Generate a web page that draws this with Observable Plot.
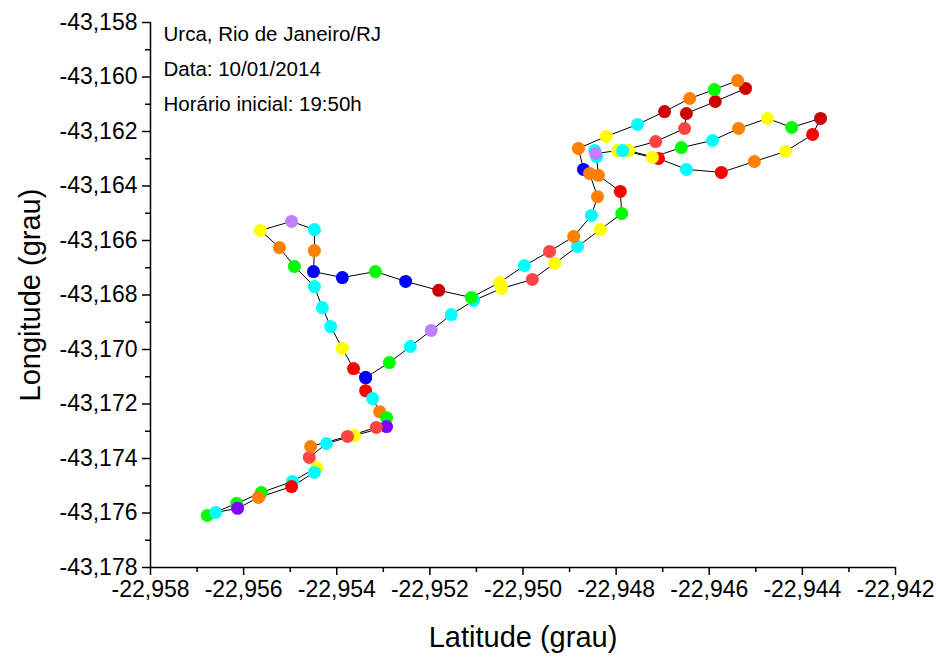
<!DOCTYPE html>
<html lang="pt-BR">
<head>
<meta charset="utf-8">
<script src="https://cdn.jsdelivr.net/npm/d3@7"></script>
<script src="https://cdn.jsdelivr.net/npm/@observablehq/plot@0.6"></script>
<style>
  html, body { margin: 0; padding: 0; background: #fff; }
</style>
</head>
<body>
<div id="chart"></div>
<script>
// GPS track recorded in Urca (Rio de Janeiro), points in walking order.
const latitude = [
  -22.95338, -22.95287, -22.95242, -22.95197, -22.95154, -22.95106, -22.95046, -22.94980,
  -22.94932, -22.94883, -22.94834, -22.94788, -22.94791, -22.94838, -22.94842, -22.94846,
  -22.94844, -22.94797, -22.94773, -22.94709, -22.94649, -22.94574, -22.94503, -22.94436,
  -22.94378, -22.94361, -22.94423, -22.94475, -22.94537, -22.94593, -22.94660, -22.94722,
  -22.94786, -22.94715, -22.94653, -22.94649, -22.94587, -22.94522, -22.94539, -22.94589,
  -22.94642, -22.94696, -22.94754, -22.94821, -22.94881, -22.94870, -22.94857, -22.94840,
  -22.94853, -22.94891, -22.94943, -22.94997, -22.95050, -22.95111, -22.95181, -22.95252,
  -22.95317, -22.95388, -22.95450, -22.95448, -22.95448, -22.95497, -22.95564, -22.95523,
  -22.95491, -22.95448, -22.95431, -22.95413, -22.95388, -22.95364, -22.95338, -22.95338,
  -22.95323, -22.95308, -22.95293, -22.95293, -22.95362, -22.95422, -22.95459, -22.95443,
  -22.95495, -22.95562, -22.95615, -22.95678, -22.95660, -22.95613, -22.95568, -22.95497,
  -22.95448, -22.95456, -22.95377, -22.95315
];
const longitude = [
  -43.17103, -43.17048, -43.16989, -43.16930, -43.16872, -43.16820, -43.16776, -43.16743,
  -43.16684, -43.16622, -43.16560, -43.16501, -43.16420, -43.16361, -43.16292, -43.16270,
  -43.16281, -43.16270, -43.16270, -43.16299, -43.16339, -43.16350, -43.16310, -43.16273,
  -43.16211, -43.16152, -43.16185, -43.16152, -43.16189, -43.16233, -43.16259, -43.16295,
  -43.16270, -43.16237, -43.16189, -43.16134, -43.16090, -43.16042, -43.16013, -43.16046,
  -43.16079, -43.16127, -43.16174, -43.16218, -43.16262, -43.16339, -43.16354, -43.16439,
  -43.16508, -43.16585, -43.16640, -43.16692, -43.16754, -43.16809, -43.16783, -43.16750,
  -43.16714, -43.16736, -43.16714, -43.16637, -43.16560, -43.16530, -43.16563, -43.16626,
  -43.16695, -43.16769, -43.16846, -43.16916, -43.16996, -43.17070, -43.17103, -43.17151,
  -43.17180, -43.17228, -43.17250, -43.17283, -43.17316, -43.17345, -43.17396, -43.17433,
  -43.17484, -43.17525, -43.17565, -43.17609, -43.17598, -43.17583, -43.17543, -43.17503,
  -43.17451, -43.17356, -43.17319, -43.17286
];
// class of each point (colour category)
const pointClass = [
  "azul", "verde", "ciano", "lilás", "ciano", "ciano", "amarelo", "vermelho claro",
  "amarelo", "ciano", "amarelo", "verde", "vermelho", "laranja", "ciano", "ciano",
  "lilás", "amarelo", "amarelo", "vermelho", "ciano", "vermelho", "laranja", "amarelo",
  "vermelho", "vermelho escuro", "verde", "amarelo", "laranja", "ciano", "verde", "amarelo",
  "ciano", "vermelho claro", "vermelho claro", "vermelho escuro", "vermelho escuro", "vermelho escuro", "laranja", "verde",
  "laranja", "vermelho escuro", "ciano", "amarelo", "laranja", "azul", "laranja", "laranja",
  "ciano", "laranja", "vermelho claro", "ciano", "amarelo", "verde", "vermelho escuro", "azul",
  "verde", "azul", "azul", "laranja", "ciano", "lilás", "amarelo", "laranja",
  "verde", "ciano", "ciano", "ciano", "amarelo", "vermelho", "azul", "vermelho",
  "ciano", "laranja", "verde", "violeta", "amarelo", "ciano", "vermelho claro", "amarelo",
  "ciano", "verde", "verde", "verde", "ciano", "violeta", "laranja", "vermelho",
  "ciano", "laranja", "vermelho claro", "vermelho claro"
];
const classNames = ["azul", "violeta", "lilás", "ciano", "verde", "amarelo", "laranja", "vermelho claro", "vermelho", "vermelho escuro"];
const classColors = ["#0000ff", "#8000ff", "#c080ff", "#00ffff", "#00ff00", "#ffff00", "#ff8000", "#ff4444", "#ff0000", "#cc0000"];

const xTicks = [-22.958, -22.956, -22.954, -22.952, -22.950, -22.948, -22.946, -22.944, -22.942];
const yTicks = [-43.178, -43.176, -43.174, -43.172, -43.170, -43.168, -43.166, -43.164, -43.162, -43.160, -43.158];
const infoLines = ["Urca, Rio de Janeiro/RJ", "Data: 10/01/2014", "Horário inicial: 19:50h"];
const xTitle = "Latitude (grau)";
const yTitle = "Longitude (grau)";

const track = latitude.map((lat, i) => ({lat, lon: longitude[i], cls: pointClass[i]}));
const minorOf = (ticks) => d3.pairs(ticks).map(([a, b]) => (a + b) / 2);

const ptBR = d3.formatLocale({decimal: ",", thousands: ".", grouping: [3], currency: ["R$", ""], minus: "-"});
const fmt = ptBR.format(".3f");
const font = "'Liberation Sans', Arial, Helvetica, sans-serif";

const chart = Plot.plot({
  width: 936,
  height: 657,
  marginLeft: 150,
  marginRight: 41,
  marginTop: 22,
  marginBottom: 90,
  style: {fontFamily: font, background: "#fff", color: "#000"},
  x: {domain: [xTicks[0], xTicks[xTicks.length - 1]], label: null},
  y: {domain: [yTicks[0], yTicks[yTicks.length - 1]], label: null},
  color: {domain: classNames, range: classColors},
  marks: [
    Plot.axisX({ticks: xTicks, tickFormat: fmt, tickSize: 8, tickPadding: 5, fontSize: 23, strokeWidth: 1.5, label: null}),
    Plot.axisX({ticks: minorOf(xTicks), tickFormat: () => "", tickSize: 5, strokeWidth: 1.5, label: null}),
    Plot.axisY({ticks: yTicks, tickFormat: fmt, tickSize: 8, tickPadding: 5, fontSize: 23, strokeWidth: 1.5, label: null}),
    Plot.axisY({ticks: minorOf(yTicks), tickFormat: () => "", tickSize: 5, strokeWidth: 1.5, label: null}),
    Plot.ruleX([xTicks[0]], {strokeWidth: 1.5}),
    Plot.ruleY([yTicks[0]], {strokeWidth: 1.5}),
    Plot.line(track, {x: "lat", y: "lon", stroke: "#000", strokeWidth: 1}),
    Plot.dot(track, {x: "lat", y: "lon", fill: "cls", r: 6.5, stroke: null}),
    Plot.text([infoLines.join("\n")], {frameAnchor: "top-left", textAnchor: "start", lineAnchor: "top", lineHeight: 1.72, dx: 13, dy: -7, fontSize: 20.5}),
    Plot.text([xTitle], {frameAnchor: "bottom", textAnchor: "middle", lineAnchor: "middle", dy: 70, fontSize: 29}),
    Plot.text([yTitle], {frameAnchor: "left", textAnchor: "middle", lineAnchor: "middle", rotate: -90, dx: -120, fontSize: 29})
  ]
});
document.getElementById("chart").appendChild(chart);
</script>
</body>
</html>
